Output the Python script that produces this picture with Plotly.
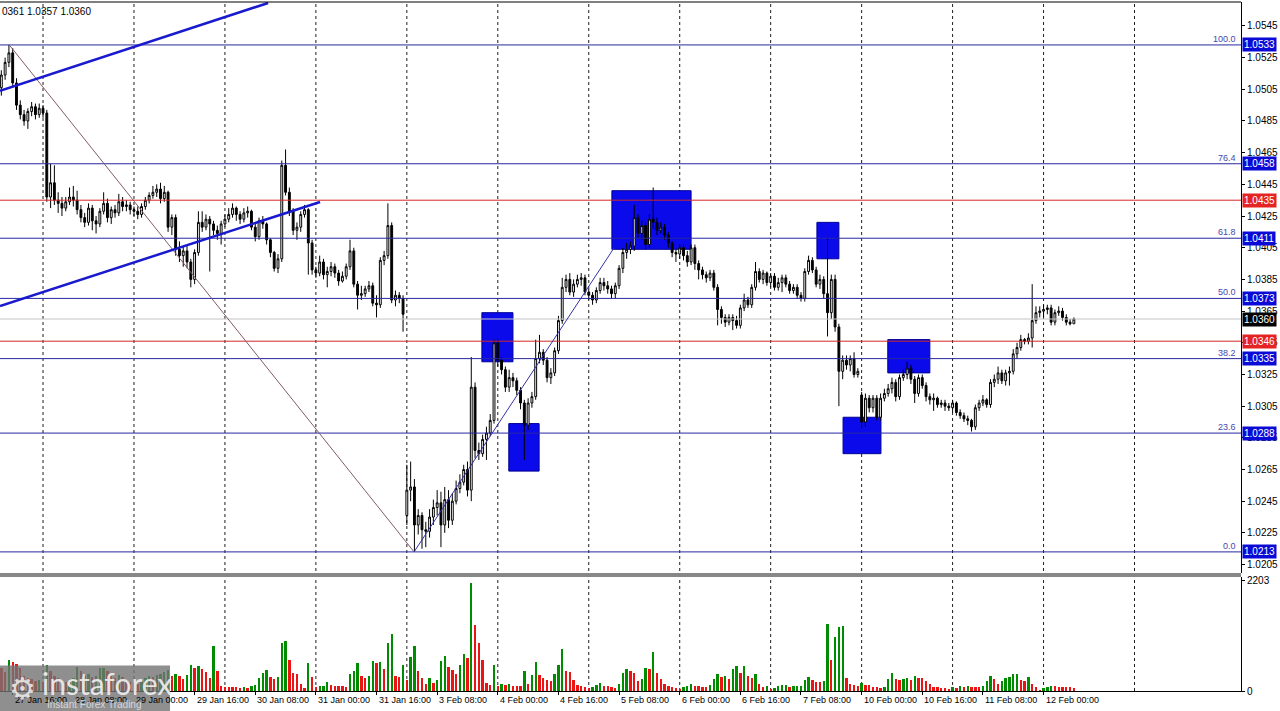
import plotly.graph_objects as go

# ---------------- data (H1 bars, index 0 = 28 Jan 00:00) ----------------
bar_idx = list(range(-11, 273))

opens = [
1.0506,1.0514,1.0522,1.0528,1.0509,1.0495,1.0489,1.0485,1.0491,1.0494,1.0489,1.0493,
1.0490,1.0437,1.0446,1.0435,1.0433,1.0430,1.0434,1.0437,1.0435,1.0429,1.0424,1.0421,
1.0430,1.0422,1.0420,1.0428,1.0433,1.0424,1.0429,1.0427,1.0434,1.0431,1.0432,1.0429,
1.0428,1.0426,1.0431,1.0435,1.0438,1.0440,1.0442,1.0436,1.0440,1.0418,1.0424,1.0404,
1.0400,1.0403,1.0396,1.0385,1.0402,1.0421,1.0418,1.0423,1.0420,1.0416,1.0414,1.0420,
1.0423,1.0426,1.0430,1.0426,1.0423,1.0427,1.0428,1.0418,1.0412,1.0422,1.0420,1.0410,
1.0402,1.0392,1.0398,1.0457,1.0440,1.0428,1.0416,1.0418,1.0426,1.0429,1.0408,1.0391,
1.0389,1.0396,1.0388,1.0390,1.0393,1.0389,1.0384,1.0387,1.0393,1.0403,1.0382,1.0375,
1.0376,1.0379,1.0381,1.0370,1.0369,1.0397,1.0400,1.0419,1.0372,1.0375,1.0373,1.0236,
1.0252,1.0254,1.0230,1.0236,1.0227,1.0226,1.0235,1.0241,1.0244,1.0230,1.0246,1.0233,
1.0245,1.0253,1.0257,1.0265,1.0252,1.0317,1.0277,1.0275,1.0284,1.0288,1.0296,1.0345,
1.0334,1.0328,1.0317,1.0323,1.0321,1.0315,1.0307,1.0293,1.0307,1.0311,1.0335,1.0339,
1.0334,1.0323,1.0326,1.0340,1.0359,1.0380,1.0385,1.0377,1.0382,1.0385,1.0386,1.0377,
1.0375,1.0372,1.0378,1.0383,1.0381,1.0379,1.0376,1.0381,1.0392,1.0402,1.0404,1.0406,
1.0424,1.0414,1.0419,1.0407,1.0423,1.0421,1.0416,1.0418,1.0413,1.0408,1.0402,1.0401,
1.0405,1.0400,1.0396,1.0405,1.0395,1.0391,1.0388,1.0386,1.0389,1.0380,1.0366,1.0361,
1.0358,1.0361,1.0359,1.0356,1.0367,1.0372,1.0369,1.0380,1.0390,1.0385,1.0389,1.0383,
1.0387,1.0380,1.0383,1.0386,1.0382,1.0378,1.0380,1.0375,1.0373,1.0390,1.0397,1.0391,
1.0382,1.0385,1.0376,1.0364,1.0385,1.0355,1.0327,1.0334,1.0331,1.0335,1.0325,1.0312,
1.0295,1.0310,1.0304,1.0310,1.0298,1.0310,1.0313,1.0316,1.0320,1.0311,1.0323,1.0325,
1.0329,1.0322,1.0313,1.0323,1.0318,1.0311,1.0309,1.0310,1.0306,1.0307,1.0305,1.0304,
1.0307,1.0301,1.0299,1.0297,1.0296,1.0292,1.0304,1.0307,1.0309,1.0306,1.0320,1.0322,
1.0326,1.0321,1.0326,1.0327,1.0338,1.0342,1.0347,1.0346,1.0348,1.0359,1.0364,1.0365,
1.0366,1.0367,1.0358,1.0364,1.0365,1.0361,1.0358,1.0357]

highs = [
1.0517,1.0525,1.0533,1.0531,1.0512,1.0498,1.0492,1.0493,1.0497,1.0496,1.0496,1.0495,
1.0492,1.0458,1.0457,1.0440,1.0437,1.0437,1.0443,1.0444,1.0441,1.0432,1.0427,1.0433,
1.0432,1.0425,1.0430,1.0440,1.0436,1.0431,1.0432,1.0439,1.0437,1.0435,1.0434,1.0431,
1.0431,1.0433,1.0437,1.0440,1.0444,1.0445,1.0446,1.0444,1.0441,1.0426,1.0426,1.0409,
1.0406,1.0406,1.0398,1.0404,1.0428,1.0428,1.0426,1.0425,1.0422,1.0419,1.0422,1.0426,
1.0430,1.0433,1.0431,1.0428,1.0430,1.0431,1.0429,1.0420,1.0424,1.0425,1.0421,1.0411,
1.0403,1.0401,1.0460,1.0467,1.0443,1.0430,1.0421,1.0428,1.0432,1.0430,1.0410,1.0393,
1.0400,1.0398,1.0393,1.0396,1.0395,1.0391,1.0390,1.0395,1.0410,1.0405,1.0384,1.0381,
1.0381,1.0384,1.0383,1.0375,1.0399,1.0403,1.0433,1.0421,1.0378,1.0377,1.0375,1.0268,
1.0270,1.0259,1.0240,1.0238,1.0232,1.0240,1.0246,1.0252,1.0251,1.0254,1.0252,1.0250,
1.0258,1.0262,1.0268,1.0270,1.0336,1.0320,1.0282,1.0287,1.0292,1.0300,1.0347,1.0347,
1.0336,1.0330,1.0328,1.0326,1.0323,1.0317,1.0309,1.0310,1.0314,1.0347,1.0350,1.0341,
1.0336,1.0329,1.0342,1.0362,1.0386,1.0388,1.0389,1.0385,1.0388,1.0389,1.0388,1.0379,
1.0377,1.0380,1.0386,1.0386,1.0384,1.0381,1.0383,1.0394,1.0405,1.0408,1.0409,1.0432,
1.0426,1.0422,1.0421,1.0426,1.0443,1.0424,1.0421,1.0420,1.0415,1.0409,1.0404,1.0407,
1.0407,1.0403,1.0407,1.0407,1.0397,1.0393,1.0390,1.0391,1.0391,1.0382,1.0368,1.0363,
1.0363,1.0363,1.0362,1.0369,1.0376,1.0374,1.0382,1.0396,1.0392,1.0391,1.0390,1.0389,
1.0389,1.0386,1.0388,1.0388,1.0384,1.0382,1.0382,1.0377,1.0392,1.0400,1.0399,1.0393,
1.0388,1.0387,1.0411,1.0388,1.0388,1.0357,1.0337,1.0337,1.0337,1.0339,1.0329,1.0314,
1.0313,1.0312,1.0312,1.0312,1.0313,1.0316,1.0319,1.0323,1.0322,1.0325,1.0328,1.0333,
1.0331,1.0324,1.0325,1.0325,1.0320,1.0313,1.0313,1.0311,1.0309,1.0309,1.0307,1.0309,
1.0308,1.0303,1.0301,1.0299,1.0297,1.0306,1.0309,1.0312,1.0310,1.0322,1.0325,1.0330,
1.0328,1.0328,1.0330,1.0341,1.0345,1.0350,1.0348,1.0351,1.0382,1.0368,1.0368,1.0369,
1.0369,1.0369,1.0366,1.0368,1.0367,1.0363,1.0360,1.0361]

lows = [
1.0501,1.0511,1.0519,1.0506,1.0492,1.0486,1.0482,1.0480,1.0488,1.0486,1.0487,1.0487,
1.0434,1.0430,1.0432,1.0427,1.0425,1.0428,1.0432,1.0431,1.0426,1.0421,1.0418,1.0419,
1.0416,1.0414,1.0418,1.0426,1.0421,1.0420,1.0424,1.0425,1.0428,1.0428,1.0426,1.0425,
1.0423,1.0424,1.0429,1.0433,1.0436,1.0437,1.0433,1.0434,1.0415,1.0413,1.0400,1.0396,
1.0393,1.0392,1.0380,1.0382,1.0400,1.0415,1.0416,1.0390,1.0413,1.0410,1.0407,1.0418,
1.0421,1.0424,1.0422,1.0420,1.0421,1.0424,1.0416,1.0409,1.0410,1.0417,1.0407,1.0399,
1.0390,1.0389,1.0396,1.0438,1.0425,1.0413,1.0410,1.0415,1.0424,1.0388,1.0388,1.0386,
1.0387,1.0385,1.0380,1.0387,1.0386,1.0381,1.0383,1.0385,1.0391,1.0380,1.0366,1.0372,
1.0374,1.0377,1.0368,1.0361,1.0367,1.0394,1.0398,1.0370,1.0368,1.0370,1.0352,1.0230,
1.0245,1.0213,1.0224,1.0215,1.0216,1.0222,1.0230,1.0236,1.0216,1.0225,1.0228,1.0230,
1.0243,1.0250,1.0255,1.0248,1.0245,1.0272,1.0271,1.0273,1.0271,1.0286,1.0294,1.0330,
1.0325,1.0314,1.0314,1.0317,1.0312,1.0303,1.0271,1.0290,1.0304,1.0309,1.0332,1.0331,
1.0320,1.0319,1.0324,1.0338,1.0357,1.0377,1.0375,1.0374,1.0380,1.0381,1.0375,1.0372,
1.0369,1.0370,1.0376,1.0378,1.0376,1.0373,1.0373,1.0379,1.0389,1.0398,1.0401,1.0403,
1.0411,1.0410,1.0404,1.0405,1.0417,1.0413,1.0414,1.0410,1.0405,1.0399,1.0396,1.0398,
1.0397,1.0393,1.0394,1.0391,1.0385,1.0385,1.0383,1.0384,1.0378,1.0356,1.0357,1.0355,
1.0356,1.0353,1.0354,1.0354,1.0365,1.0367,1.0367,1.0378,1.0383,1.0382,1.0381,1.0380,
1.0378,1.0378,1.0377,1.0380,1.0376,1.0376,1.0373,1.0371,1.0371,1.0388,1.0389,1.0380,
1.0379,1.0373,1.0349,1.0360,1.0352,1.0305,1.0322,1.0328,1.0327,1.0323,1.0323,1.0291,
1.0292,1.0301,1.0301,1.0296,1.0296,1.0308,1.0311,1.0313,1.0308,1.0309,1.0321,1.0322,
1.0319,1.0307,1.0311,1.0316,1.0308,1.0306,1.0302,1.0304,1.0304,1.0302,1.0302,1.0301,
1.0299,1.0297,1.0295,1.0293,1.0289,1.0290,1.0302,1.0305,1.0304,1.0304,1.0317,1.0319,
1.0319,1.0318,1.0318,1.0325,1.0335,1.0340,1.0344,1.0344,1.0342,1.0357,1.0361,1.0361,
1.0363,1.0356,1.0356,1.0362,1.0359,1.0356,1.0356,1.0357]

closes = [
1.0514,1.0522,1.0528,1.0509,1.0495,1.0489,1.0485,1.0491,1.0494,1.0489,1.0493,1.0490,
1.0437,1.0446,1.0435,1.0433,1.0430,1.0434,1.0437,1.0435,1.0429,1.0424,1.0421,1.0430,
1.0422,1.0420,1.0428,1.0433,1.0424,1.0429,1.0427,1.0434,1.0431,1.0432,1.0429,1.0428,
1.0426,1.0431,1.0435,1.0438,1.0440,1.0442,1.0436,1.0440,1.0418,1.0424,1.0404,1.0400,
1.0403,1.0396,1.0385,1.0402,1.0421,1.0418,1.0423,1.0420,1.0416,1.0414,1.0420,1.0423,
1.0426,1.0430,1.0426,1.0423,1.0427,1.0428,1.0418,1.0412,1.0422,1.0420,1.0410,1.0402,
1.0392,1.0398,1.0457,1.0440,1.0428,1.0416,1.0418,1.0426,1.0429,1.0408,1.0391,1.0389,
1.0396,1.0388,1.0390,1.0393,1.0389,1.0384,1.0387,1.0393,1.0403,1.0382,1.0375,1.0376,
1.0379,1.0381,1.0370,1.0369,1.0397,1.0400,1.0419,1.0372,1.0375,1.0373,1.0363,1.0252,
1.0254,1.0230,1.0236,1.0227,1.0226,1.0235,1.0241,1.0244,1.0230,1.0246,1.0233,1.0245,
1.0253,1.0257,1.0265,1.0252,1.0317,1.0277,1.0275,1.0284,1.0288,1.0296,1.0345,1.0334,
1.0328,1.0317,1.0323,1.0321,1.0315,1.0307,1.0293,1.0307,1.0311,1.0335,1.0339,1.0334,
1.0323,1.0326,1.0340,1.0359,1.0380,1.0385,1.0377,1.0382,1.0385,1.0386,1.0377,1.0375,
1.0372,1.0378,1.0383,1.0381,1.0379,1.0376,1.0381,1.0392,1.0402,1.0404,1.0406,1.0424,
1.0414,1.0419,1.0407,1.0423,1.0421,1.0416,1.0418,1.0413,1.0408,1.0402,1.0401,1.0405,
1.0400,1.0396,1.0405,1.0395,1.0391,1.0388,1.0386,1.0389,1.0380,1.0366,1.0361,1.0358,
1.0361,1.0359,1.0356,1.0367,1.0372,1.0369,1.0380,1.0390,1.0385,1.0389,1.0383,1.0387,
1.0380,1.0383,1.0386,1.0382,1.0378,1.0380,1.0375,1.0373,1.0390,1.0397,1.0391,1.0382,
1.0385,1.0376,1.0364,1.0385,1.0355,1.0327,1.0334,1.0331,1.0335,1.0325,1.0327,1.0295,
1.0310,1.0304,1.0310,1.0298,1.0310,1.0313,1.0316,1.0320,1.0311,1.0323,1.0325,1.0329,
1.0322,1.0313,1.0323,1.0318,1.0311,1.0309,1.0310,1.0306,1.0307,1.0305,1.0304,1.0307,
1.0301,1.0299,1.0297,1.0296,1.0292,1.0304,1.0307,1.0309,1.0306,1.0320,1.0322,1.0326,
1.0321,1.0326,1.0327,1.0338,1.0342,1.0347,1.0346,1.0348,1.0359,1.0364,1.0365,1.0366,
1.0367,1.0358,1.0364,1.0365,1.0361,1.0358,1.0357,1.0360]

volumes = [
460,380,620,580,540,460,300,260,240,200,220,180,
520,400,300,260,220,180,200,260,480,400,300,340,
280,300,460,470,400,300,260,320,280,220,180,160,
140,200,260,300,280,320,340,380,420,300,340,300,
240,320,520,460,500,440,380,260,900,400,100,80,
80,80,80,70,80,70,100,120,260,360,420,280,
240,280,960,1000,620,360,340,140,60,560,280,80,
100,110,180,120,100,100,100,90,340,400,560,300,
260,300,600,560,580,440,960,1140,300,280,520,220,
680,900,400,260,140,260,160,220,600,700,480,420,
340,520,740,660,2160,1320,960,620,160,120,520,100,
140,120,140,100,100,100,400,140,320,580,320,260,
220,210,340,520,840,400,380,220,120,100,80,60,
80,120,160,100,95,90,60,140,360,440,400,360,
200,240,460,440,780,360,240,140,100,90,60,40,
80,100,140,100,95,90,85,120,240,340,280,300,
240,440,500,360,500,300,260,340,140,80,100,40,
60,100,120,125,90,95,100,105,220,280,220,180,
175,200,1340,620,1080,1280,1300,260,140,120,100,160,
120,115,90,85,60,90,240,360,240,220,240,260,
220,300,270,260,200,140,90,80,60,55,50,90,
60,100,90,95,80,78,75,100,200,300,240,140,
200,260,280,340,345,220,200,280,140,80,20,60,
90,110,100,90,85,80,75,70]

# time-axis labels (bar index -> text)
label_idx = [-8, 8, 24, 40, 56, 72, 88, 104, 120, 136, 152, 168, 184, 200, 216, 232, 248, 264]
label_txt = ["27 Jan 16:00", "28 Jan 08:00", "29 Jan 00:00", "29 Jan 16:00", "30 Jan 08:00",
             "31 Jan 00:00", "31 Jan 16:00", "3 Feb 08:00", "4 Feb 00:00", "4 Feb 16:00",
             "5 Feb 08:00", "6 Feb 00:00", "6 Feb 16:00", "7 Feb 08:00", "10 Feb 00:00",
             "10 Feb 16:00", "11 Feb 08:00", "12 Feb 00:00"]
day_idx = [0, 24, 48, 72, 96, 120, 144, 168, 192, 216, 240, 264, 288]

price_ticks = [1.0545, 1.0525, 1.0505, 1.0485, 1.0465, 1.0445, 1.0425, 1.0405, 1.0385,
               1.0365, 1.0345, 1.0325, 1.0305, 1.0285, 1.0265, 1.0245, 1.0225, 1.0205]
price_tick_txt = ["1.0545", "1.0525", "1.0505", "1.0485", "1.0465", "1.0445", "1.0425", "1.0405", "1.0385",
                  "1.0365", "1.0345", "1.0325", "1.0305", "1.0285", "1.0265", "1.0245", "1.0225", "1.0205"]
vol_ticks = [0, 2203]
vol_tick_txt = ["0", "2203"]

fib_levels = [1.0533, 1.0458, 1.0411, 1.0373, 1.0335, 1.0288, 1.0213]
fib_pcts = ["100.0", "76.4", "61.8", "50.0", "38.2", "23.6", "0.0"]
red_levels = [1.0435, 1.0346]
bid_level = 1.0360

# rectangles (bar index range, price range)
box_x0 = [115.8, 122.9, 150.1, 204.2, 211.1, 222.9]
box_x1 = [124.0, 130.9, 171.0, 210.0, 221.1, 234.0]
box_y0 = [1.0333, 1.0264, 1.0404, 1.0398, 1.0275, 1.0326]
box_y1 = [1.0364, 1.0294, 1.0441, 1.0421, 1.0298, 1.0347]

# channel lines (thick) and fib diagonals (thin)
chan_x0 = [-11.35, -11.35]
chan_y0 = [1.0504, 1.03682]
chan_x1 = [59.4, 73.1]
chan_y1 = [1.05595, 1.04339]
fib_diag_x = [-8.9, 97.9, 150.7]
fib_diag_y = [1.0533, 1.0213, 1.0405]

# ---------------- figure ----------------
FONT = "Liberation Sans"
BLUE_LINE = "rgb(40,40,160)"
RED_LINE = "rgb(210,40,40)"

vol_colors = []
for k, v in enumerate(volumes):
    if k > 0 and v > volumes[k - 1]:
        vol_colors.append("rgb(0,140,0)")
    else:
        vol_colors.append("rgb(235,20,20)")

fig = go.Figure()
fig.add_trace(go.Candlestick(
    x=bar_idx, open=opens, high=highs, low=lows, close=closes,
    xaxis="x", yaxis="y",
    increasing=dict(line=dict(color="black", width=1), fillcolor="white"),
    decreasing=dict(line=dict(color="black", width=1), fillcolor="black"),
    whiskerwidth=0, hoverinfo="skip", showlegend=False))
fig.add_trace(go.Bar(
    x=bar_idx, y=volumes, xaxis="x", yaxis="y2", width=0.62,
    marker=dict(color=vol_colors, line=dict(width=0)),
    hoverinfo="skip", showlegend=False))

shapes = []
# day separators (dotted)
for d in day_idx:
    shapes.append(dict(type="line", xref="x", yref="paper", x0=d, x1=d, y0=0, y1=1,
                       line=dict(color="rgb(30,30,30)", width=1, dash="3px,3px"), layer="below"))
# blue boxes
for a, b, c, e in zip(box_x0, box_x1, box_y0, box_y1):
    shapes.append(dict(type="rect", xref="x", yref="y", x0=a, x1=b, y0=c, y1=e,
                       fillcolor="rgb(10,10,235)", line=dict(color="rgb(0,0,150)", width=1),
                       layer="below"))
# horizontal levels
shapes.append(dict(type="line", xref="paper", yref="y", x0=0, x1=1, y0=bid_level, y1=bid_level,
                   line=dict(color="rgb(195,195,195)", width=1)))
for lv in fib_levels:
    shapes.append(dict(type="line", xref="paper", yref="y", x0=0, x1=1, y0=lv, y1=lv,
                       line=dict(color=BLUE_LINE, width=1)))
for lv in red_levels:
    shapes.append(dict(type="line", xref="paper", yref="y", x0=0, x1=1, y0=lv, y1=lv,
                       line=dict(color=RED_LINE, width=1)))
# fib diagonals
shapes.append(dict(type="line", xref="x", yref="y", x0=fib_diag_x[0], y0=fib_diag_y[0],
                   x1=fib_diag_x[1], y1=fib_diag_y[1], line=dict(color="rgb(130,90,110)", width=1)))
shapes.append(dict(type="line", xref="x", yref="y", x0=fib_diag_x[1], y0=fib_diag_y[1],
                   x1=fib_diag_x[2], y1=fib_diag_y[2], line=dict(color="rgb(50,50,170)", width=1)))
# channel lines
for a, b, c, e in zip(chan_x0, chan_y0, chan_x1, chan_y1):
    shapes.append(dict(type="line", xref="x", yref="y", x0=a, y0=b, x1=c, y1=e,
                       line=dict(color="rgb(25,25,205)", width=2.5)))
# panel separator and top border
shapes.append(dict(type="rect", xref="paper", yref="paper", x0=0, x1=1, y0=0.1655, y1=0.1713,
                   fillcolor="rgb(135,135,135)", line=dict(width=0)))
shapes.append(dict(type="line", xref="paper", yref="paper", x0=0, x1=1, y0=1, y1=1,
                   line=dict(color="black", width=1)))
# watermark box
shapes.append(dict(type="rect", xref="paper", yref="paper", x0=0, x1=0.137, y0=-0.03, y1=0.037,
                   fillcolor="rgba(115,115,115,0.8)", line=dict(width=0)))

ann = []
ann.append(dict(x=0, y=1, xref="paper", yref="paper", xanchor="left", yanchor="top", yshift=-2,
                text="0361 1.0357 1.0360", showarrow=False, font=dict(family=FONT, size=10, color="black")))
for i, t in zip(label_idx, label_txt):
    ann.append(dict(x=i, y=0, xref="x", yref="paper", xanchor="left", yanchor="top", yshift=-2, xshift=0,
                    text=t, showarrow=False, font=dict(family=FONT, size=9, color="black")))
for lv, pct in zip(fib_levels, fib_pcts):
    ann.append(dict(x=1, y=lv, xref="paper", yref="y", xanchor="right", yanchor="bottom", xshift=-3, yshift=-1,
                    text=pct, showarrow=False, font=dict(family=FONT, size=9, color="rgb(70,70,175)")))
    ann.append(dict(x=1, y=lv, xref="paper", yref="y", xanchor="left", yanchor="middle", xshift=1,
                    text=f"{lv:.4f}", showarrow=False, bgcolor="rgb(10,10,215)", borderpad=1,
                    font=dict(family=FONT, size=10, color="white")))
for lv in red_levels:
    ann.append(dict(x=1, y=lv, xref="paper", yref="y", xanchor="left", yanchor="middle", xshift=1,
                    text=f"{lv:.4f}", showarrow=False, bgcolor="rgb(230,35,35)", borderpad=1,
                    font=dict(family=FONT, size=10, color="white")))
ann.append(dict(x=1, y=bid_level, xref="paper", yref="y", xanchor="left", yanchor="middle", xshift=1,
                text=f"{bid_level:.4f}", showarrow=False, bgcolor="black", borderpad=1,
                font=dict(family=FONT, size=10, color="white")))
# watermark text
ann.append(dict(x=0.018, y=0.003, xref="paper", yref="paper", xanchor="center", yanchor="middle",
                text="⚙", showarrow=False, font=dict(family="DejaVu Sans", size=30, color="rgba(235,235,235,0.9)")))
ann.append(dict(x=0.032, y=0.012, xref="paper", yref="paper", xanchor="left", yanchor="middle",
                text="instaforex", showarrow=False, font=dict(family="Lato", size=30, color="rgba(240,240,240,0.92)")))
ann.append(dict(x=0.036, y=-0.019, xref="paper", yref="paper", xanchor="left", yanchor="middle",
                text="Instant Forex Trading", showarrow=False, font=dict(family=FONT, size=10, color="rgba(225,225,225,0.9)")))

fig.update_layout(
    width=1280, height=711,
    margin=dict(l=0, r=39, t=2, b=20),
    plot_bgcolor="white", paper_bgcolor="white",
    showlegend=False, bargap=0,
    shapes=shapes, annotations=ann,
    xaxis=dict(range=[-11.35, 316.1], anchor="y2", showgrid=False, zeroline=False,
               showline=True, linecolor="black", linewidth=1,
               ticks="outside", ticklen=3, tickcolor="black", tickvals=label_idx,
               showticklabels=False, rangeslider=dict(visible=False)),
    yaxis=dict(domain=[0.1713, 1], range=[1.01997, 1.05601], side="right",
               showgrid=False, zeroline=False, showline=True, linecolor="black", linewidth=1,
               ticks="outside", ticklen=3, tickcolor="black",
               tickvals=price_ticks, ticktext=price_tick_txt,
               tickfont=dict(family=FONT, size=10, color="black")),
    yaxis2=dict(domain=[0, 0.1655], range=[0, 2283], side="right",
                showgrid=False, zeroline=False, showline=True, linecolor="black", linewidth=1,
                ticks="outside", ticklen=3, tickcolor="black",
                tickvals=vol_ticks, ticktext=vol_tick_txt,
                tickfont=dict(family=FONT, size=10, color="black")),
)

fig.write_html("out.html", config={"displayModeBar": False},
               post_script="document.body.style.margin='0';document.body.style.overflow='hidden';")
